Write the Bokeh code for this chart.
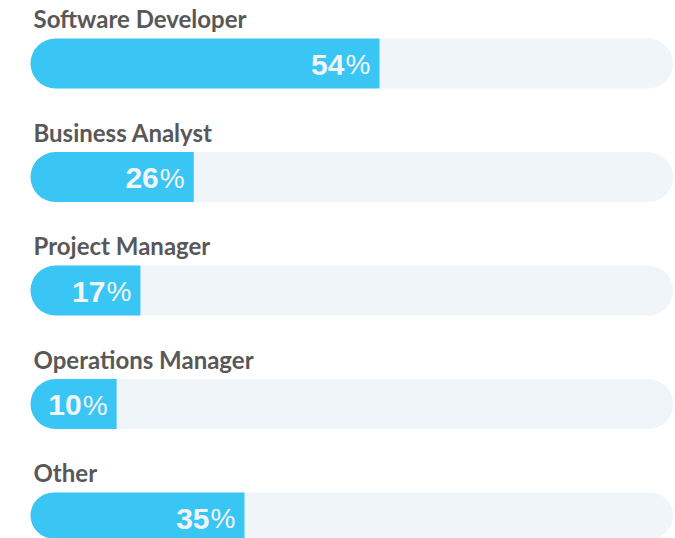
from bokeh.plotting import figure
from bokeh.models import Range1d, ColumnDataSource
from bokeh.core.properties import value
from bokeh.embed import file_html
from bokeh.resources import INLINE

categories = ["Software Developer", "Business Analyst", "Project Manager",
              "Operations Manager", "Other"]
values = [54, 26, 17, 10, 35]                      # labels shown
bar_lengths = [54.3, 25.4, 17.1, 13.4, 33.3]       # drawn bar lengths (% of track)

W, H = 675, 538
TRACK_L, TRACK_R = 30.0, 672.7       # pixel extent of the 0..100 track
PX = (TRACK_R - TRACK_L) / 100.0
ROW0, STEP, BAR_H = 63.0, 113.5, 50.0
TXT_FIX = 10.0                        # baseline correction of the svg text

centers = [ROW0 + STEP * i for i in range(len(categories))]

src = ColumnDataSource(dict(
    y=centers,
    lab_y=[c - BAR_H / 2 - 10.0 - TXT_FIX for c in centers],
    num_y=[c + 11 - TXT_FIX for c in centers],
    cat=categories,
    num=[str(v) for v in values],
    pct=["%"] * len(values),
    length=bar_lengths,
    full=[100] * len(values),
    zero=[0] * len(values),
))

p = figure(width=W, height=H, output_backend="svg", toolbar_location=None,
           x_range=Range1d(-TRACK_L / PX, 100 + (W - TRACK_R) / PX),
           y_range=Range1d(H, 0), x_axis_type=None, y_axis_type=None,
           min_border=0, min_border_left=0, min_border_right=0,
           min_border_top=0, min_border_bottom=0)
p.outline_line_color = None
p.grid.visible = False
p.background_fill_color = "white"
p.border_fill_color = "white"

p.hbar(y="y", left="zero", right="full", height=BAR_H, source=src,
       fill_color="#eff5f9", line_color=None, border_radius=25)
p.hbar(y="y", left="zero", right="length", height=BAR_H, source=src,
       fill_color="#39c6f4", line_color=None, border_radius=(25, 0, 0, 25))

p.text(x="zero", y="lab_y", text="cat", source=src, x_offset=3,
       text_align="left", text_baseline="alphabetic",
       text_font=value("Lato"), text_font_style="bold",
       text_font_size="24px", text_color="#585858")

p.text(x="length", y="num_y", text="num", source=src, x_offset=-35,
       text_align="right", text_baseline="alphabetic",
       text_font=value("Liberation Sans"), text_font_style="bold",
       text_font_size="30px", text_color="#f1f5f8")
p.text(x="length", y="num_y", text="pct", source=src, x_offset=-9,
       text_align="right", text_baseline="alphabetic",
       text_font=value("Liberation Sans"), text_font_style="normal",
       text_font_size="28px", text_color="#f1f5f8")

open("out.html", "w").write(file_html(p, INLINE))
